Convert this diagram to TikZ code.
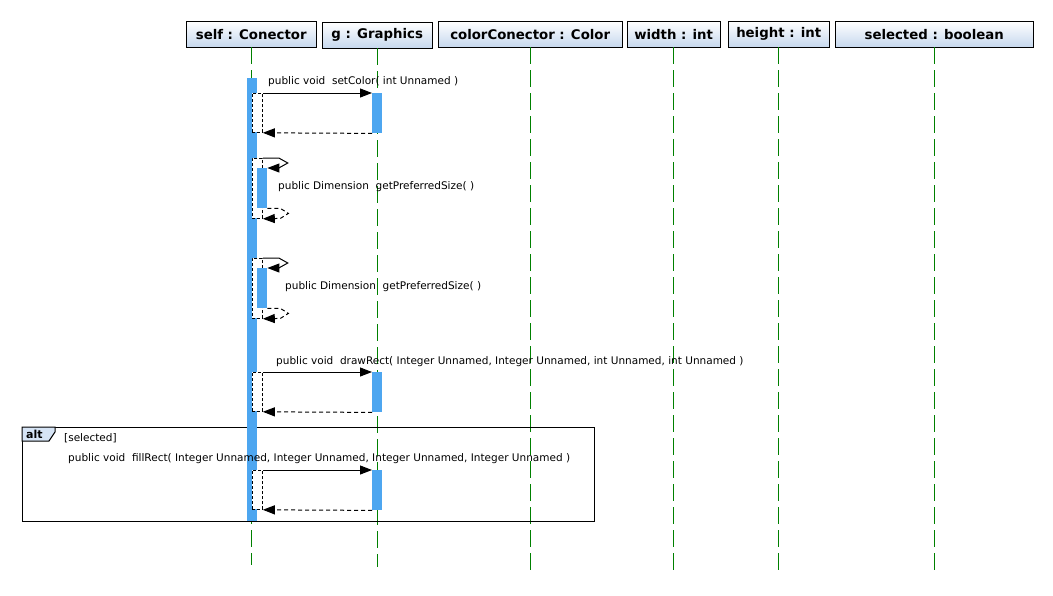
\documentclass[tikz,border=0pt]{standalone}
\usepackage{fontspec}
\setmainfont{DejaVu Sans}
\usetikzlibrary{arrows.meta}
\definecolor{actblue}{RGB}{77,166,240}
\definecolor{lifegreen}{RGB}{0,128,0}
\definecolor{headblue}{RGB}{198,216,238}
\definecolor{tagblue}{RGB}{214,228,245}
\tikzset{head/.style={draw=black, top color=white, bottom color=headblue, minimum height=26pt, inner sep=0pt, anchor=north west, font=\bfseries\fontsize{13.3}{15}\selectfont},
life/.style={draw=lifegreen, line width=1pt, dash pattern=on 17pt off 6pt},
%activation bars and the white call frames beside them
act/.style={fill=actblue, draw=none, minimum width=10pt, inner sep=0pt, anchor=north west},
callframe/.style={fill=white, draw=black, line width=0.8pt, dash pattern=on 3pt off 2pt, minimum width=10pt, inner sep=0pt, anchor=north west},
call/.style={-{Triangle[length=12pt,width=9pt]}, line width=1pt},
ret/.style={call, dash pattern=on 4pt off 3pt},
msg/.style={anchor=west, inner sep=0pt, font=\fontsize{10.5}{12}\selectfont}}

\begin{document}
\begin{tikzpicture}[x=1pt, y=-1pt]

    \useasboundingbox (0,0) rectangle (1053,595);

    \node[head, minimum width=130pt] (self) at (186,21) {self : Conector};
    \node[head, minimum width=110pt] (g) at (322,22) {g : Graphics};
    \node[head, minimum width=184pt] (color) at (438,21) {colorConector : Color};
    \node[head, minimum width=93pt] (width) at (627,21) {width : int};
    \node[head, minimum width=101pt] (height) at (728,21) {height : int};
    \node[head, minimum width=198pt] (selected) at (835,21) {selected : boolean};

    \draw[life] (self.south) -- (self.south |- 0,565);
    \draw[life] (g.south) -- (g.south |- 0,567);
    \foreach \i in {color,width,height,selected}
    \draw[life] (\i.south) -- (\i.south |- 0,575);

    % alt fragment
    \node[draw=black, line width=1pt, minimum width=572pt, minimum height=94pt, inner sep=0pt, anchor=north west] (alt) at (22,427) {};
    \draw[line width=1pt, fill=tagblue] (alt.north west) -- ++(33,0) -- ++(0,5) -- ++(-6,9) -- ++(-27,0) -- cycle;
    \node[anchor=west, inner sep=0pt, font=\bfseries\fontsize{11}{13}\selectfont] (alttag) at (26,434) {alt};
    \node[msg] (guard) at (64,438) {[selected]};

    \node[act, minimum height=443pt] (selfbar) at (247,78) {};

    % setColor
    \node[callframe, minimum height=39pt] (f1) at (252,93) {};
    \node[act, minimum height=40pt] (gbar1) at (372,93) {};
    \draw[call] (f1.north east) -- (gbar1.north west);
    \draw[ret] (gbar1.south west) -- (f1.south east);
    \node[msg] (m1) at (268,82) {public void\ \ setColor( int Unnamed )};

    % getPreferredSize, twice
    \node[callframe, minimum height=60pt] (f2) at (252,158) {};
    \node[act, minimum height=40pt] (sbar1) at (257,168) {};
    \draw[call] (f2.north east) -- ++(16,0) -- ++(9,5) -- ++(-9,5) -- (sbar1.north east);
    \draw[ret] (sbar1.south east) -- ++(13,0) -- ++(8,5) -- ++(-8,5) -- (f2.south east);
    \node[msg] (m2) at (278,187) {public Dimension\ \ getPreferredSize( )};

    \node[callframe, minimum height=60pt] (f3) at (252,258) {};
    \node[act, minimum height=40pt] (sbar2) at (257,268) {};
    \draw[call] (f3.north east) -- ++(16,0) -- ++(9,5) -- ++(-9,5) -- (sbar2.north east);
    \draw[ret] (sbar2.south east) -- ++(13,0) -- ++(8,5) -- ++(-8,5) -- (f3.south east);
    \node[msg] (m3) at (285,287) {public Dimension\ \ getPreferredSize( )};

    % drawRect
    \node[callframe, minimum height=39pt] (f4) at (252,372) {};
    \node[act, minimum height=40pt] (gbar2) at (372,372) {};
    \draw[call] (f4.north east) -- (gbar2.north west);
    \draw[ret] (gbar2.south west) -- (f4.south east);
    \node[msg] (m4) at (276,362) {public void\ \ drawRect( Integer Unnamed, Integer Unnamed, int Unnamed, int Unnamed )};

    % fillRect
    \node[callframe, minimum height=39pt] (f5) at (252,470) {};
    \node[act, minimum height=40pt] (gbar3) at (372,470) {};
    \draw[call] (f5.north east) -- (gbar3.north west);
    \draw[ret] (gbar3.south west) -- (f5.south east);
    \node[msg] (m5) at (68,459) {public void\ \ fillRect( Integer Unnamed, Integer Unnamed, Integer Unnamed, Integer Unnamed )};

\end{tikzpicture}
\end{document}
